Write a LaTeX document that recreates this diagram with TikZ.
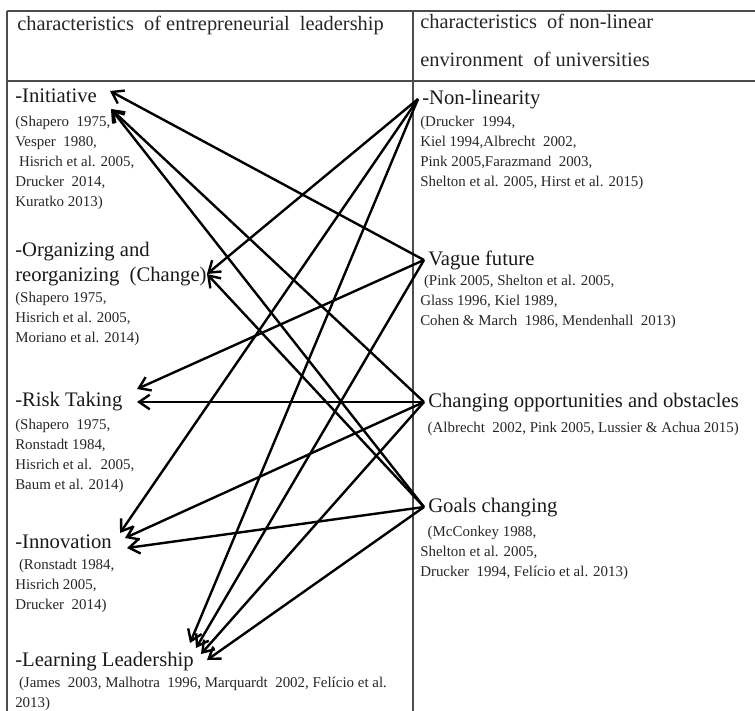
\documentclass[tikz,border=0pt]{standalone}
\usepackage{fontspec}
\setmainfont{Liberation Serif}
\usetikzlibrary{positioning,arrows.meta}

\begin{document}
\begin{tikzpicture}[x=0.75pt,y=-0.75pt,
  rule/.style={line width=1.3pt,draw=black!70},
  head/.style={font=\fontsize{15.3}{28.5}\selectfont,anchor=north west,inner sep=0,align=left,text=black!85},
  lab/.style={font=\fontsize{15.5}{18.75}\selectfont,anchor=north west,inner sep=0,align=left,text=black!90},
  rlab/.style={lab,anchor=west,inner ysep=0,inner xsep=3pt,text height=10.5pt,text depth=3pt},
  cite/.style={font=\fontsize{11.2}{15}\selectfont,anchor=north west,inner sep=0,align=left,text=black!85},
  arr/.style={-{Straight Barb[length=8pt,width=11pt]},line width=1.8pt}
]
\useasboundingbox (0,0) rectangle (755,710);

% table
\draw[rule] (7,11) -- (756,11);
\draw[rule] (7,81) -- (756,81);
\draw[rule] (7,11) -- (7,711);
\draw[rule] (413,11) -- (413,711);

% headers
\node[head] (hl) at (17,16) {characteristics~ of entrepreneurial~ leadership};
\node[head] (hr) at (420,14) {characteristics~ of non-linear\\environment~ of universities};

% entrepreneurial leadership
\node[lab] (ini) at (15,89) {-Initiative};
\node[cite] (ini c) at (15,116) {(Shapero~ 1975,\\Vesper~ 1980,\\~Hisrich et al. 2005,\\Drucker~ 2014,\\Kuratko 2013)};
\node[lab] (org) at (15,242) {-Organizing and\\reorganizing~ (Change)};
\node[cite] (org c) at (15,292) {(Shapero 1975,\\Hisrich et al. 2005,\\Moriano et al. 2014)};
\node[lab] (risk) at (15,392) {-Risk Taking};
\node[cite] (risk c) at (15,419) {(Shapero~ 1975,\\Ronstadt 1984,\\Hisrich et al.~ 2005,\\Baum et al. 2014)};
\node[lab] (inn) at (15,535) {-Innovation};
\node[cite] (inn c) at (15,559) {~(Ronstadt 1984,\\Hisrich 2005,\\Drucker~ 2014)};
\node[lab] (lrn) at (15,652) {-Learning Leadership};
\node[cite] (lrn c) at (15,677) {~(James~ 2003, Malhotra~ 1996, Marquardt~ 2002, Felício et al.\\2013)};

% non-linear environment
\node[rlab] (N) at (418,99) {-Non-linearity};
\node[cite] (N c) at (420,116) {(Drucker~ 1994,\\Kiel 1994,Albrecht~ 2002,\\Pink 2005,Farazmand~ 2003,\\Shelton et al. 2005, Hirst et al. 2015)};
\node[rlab] (V) at (424,260) {Vague future};
\node[cite] (V c) at (420,275) {~(Pink 2005, Shelton et al. 2005,\\Glass 1996, Kiel 1989,\\Cohen \& March~ 1986, Mendenhall~ 2013)};
\node[rlab] (C) at (424,402) {Changing opportunities and obstacles};
\node[cite] (C c) at (420,422) {~~(Albrecht~ 2002, Pink 2005, Lussier \& Achua 2015)};
\node[rlab] (G) at (424,507) {Goals changing};
\node[cite] (G c) at (420,526) {~~(McConkey 1988,\\Shelton et al. 2005,\\Drucker~ 1994, Felício et al. 2013)};

% arrow tips
\coordinate (ini a) at (110,91);
\coordinate (ini b) at (111,109);
\coordinate (org a) at (207,274);
\coordinate (risk a) at (137,389);
\coordinate (risk b) at (137,402);
\coordinate (inn a) at (120,533);
\coordinate (inn b) at (125,538);
\coordinate (inn c) at (127,548);
\coordinate (lrn a) at (190,643);
\coordinate (lrn b) at (196,648);
\coordinate (lrn c) at (201,654);
\coordinate (lrn d) at (207,660);

\path[arr]
(N.west) edge (org a)
(N.west) edge (inn a)
(N.west) edge (lrn a);

\path[arr]
(V.west) edge (ini a)
(V.west) edge (risk a)
(V.west) edge (lrn b);

\path[arr]
(C.west) edge (ini b)
(C.west) edge (risk b)
(C.west) edge (inn b)
(C.west) edge (lrn c);

\path[arr]
(G.west) edge (ini b)
(G.west) edge (org a)
(G.west) edge (inn c)
(G.west) edge (lrn d);

\end{tikzpicture}
\end{document}
